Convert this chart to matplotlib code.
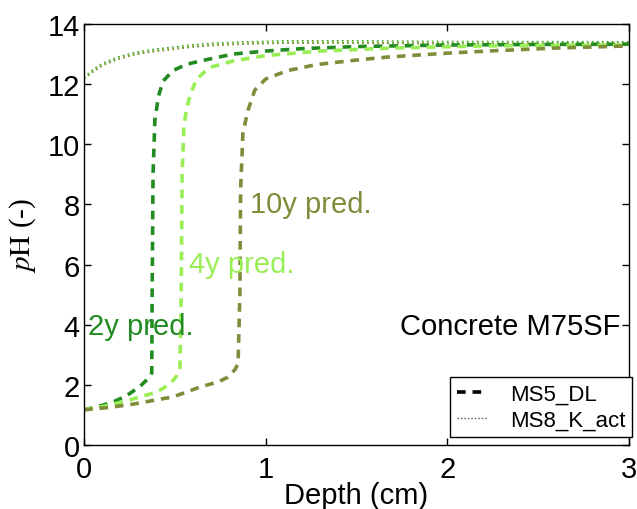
import matplotlib
matplotlib.use("Agg")
from matplotlib import pyplot as plt

plt.rcParams['font.family'] = ['Liberation Sans', 'DejaVu Sans']
plt.rcParams['mathtext.fontset'] = 'stix'

# MS5_DL predictions (dashed)
x_2y = [0, 0.08, 0.16, 0.235, 0.31, 0.36, 0.373, 0.375, 0.38, 0.39, 0.41, 0.435,
        0.49, 0.56, 0.64, 0.82, 1.0, 1.2, 1.5, 2.0, 2.5, 3.0]
ph_2y = [1.17, 1.28, 1.43, 1.64, 1.96, 2.25, 2.4, 5.0, 9.0, 10.8, 11.6, 12.1,
         12.45, 12.65, 12.77, 13.0, 13.1, 13.18, 13.25, 13.3, 13.32, 13.33]

x_4y = [0, 0.12, 0.23, 0.31, 0.40, 0.475, 0.51, 0.528, 0.535, 0.54, 0.55, 0.565,
        0.585, 0.62, 0.69, 0.82, 1.0, 1.3, 1.7, 2.2, 3.0]
ph_4y = [1.17, 1.3, 1.46, 1.6, 1.76, 2.03, 2.3, 2.5, 5.0, 9.0, 10.6, 11.2,
         11.65, 12.17, 12.55, 12.77, 12.95, 13.1, 13.2, 13.27, 13.3]

x_10y = [0, 0.14, 0.27, 0.49, 0.64, 0.74, 0.79, 0.83, 0.848, 0.858, 0.862, 0.875,
         0.905, 0.94, 1.0, 1.12, 1.28, 1.5, 1.67, 2.0, 2.22, 2.6, 3.0]
ph_10y = [1.17, 1.25, 1.36, 1.6, 1.93, 2.1, 2.25, 2.5, 2.7, 5.0, 8.5, 10.4,
          11.17, 11.8, 12.17, 12.45, 12.65, 12.8, 12.9, 13.03, 13.1, 13.2, 13.27]

# MS8_K_act predictions (dotted), nearly on top of each other
x_k = [0, 0.05, 0.1, 0.18, 0.27, 0.36, 0.46, 0.6, 0.73, 0.9, 1.1, 1.5, 2.0, 3.0]
ph_k_2y = [12.22, 12.48, 12.68, 12.88, 13.03, 13.13, 13.2, 13.3, 13.36, 13.4, 13.43, 13.43, 13.41, 13.4]
ph_k_4y = [12.2, 12.45, 12.65, 12.85, 13.0, 13.1, 13.17, 13.27, 13.33, 13.37, 13.4, 13.4, 13.38, 13.37]
ph_k_10y = [12.18, 12.42, 12.62, 12.82, 12.97, 13.07, 13.14, 13.24, 13.3, 13.34, 13.37, 13.37, 13.35, 13.34]

c2 = '#228b22'
c4 = '#99ee55'
c10 = '#7f8c3a'

fig = plt.figure(figsize=(6.37, 5.1), dpi=100)
ax = fig.add_axes([0.1319, 0.1255, 0.8555, 0.8255])

dash = (2.4, 1.9)
dot = (0, (0.8, 1.6))
ax.plot(x_k, ph_k_2y, color=c2, lw=1.5, linestyle=dot)
ax.plot(x_k, ph_k_4y, color=c4, lw=1.5, linestyle=dot)
ax.plot(x_k, ph_k_10y, color=c10, lw=1.5, linestyle=dot)
ax.plot(x_2y, ph_2y, color=c2, lw=2.6, linestyle=(0, dash))
ax.plot(x_4y, ph_4y, color=c4, lw=2.6, linestyle=(0, dash))
ax.plot(x_10y, ph_10y, color=c10, lw=2.6, linestyle=(0, dash))

ax.text(0.02, 3.96, '2y pred.', color=c2, fontsize=21, va='center')
ax.text(0.58, 6.02, '4y pred.', color=c4, fontsize=21, va='center')
ax.text(0.915, 8.0, '10y pred.', color=c10, fontsize=21, va='center')
ax.text(2.95, 3.96, 'Concrete M75SF', color='black', fontsize=21, va='center', ha='right')

# legend proxies in black
ax.plot([], [], color='black', lw=2.6, linestyle=(0, dash), label='MS5_DL')
ax.plot([], [], color='#555555', lw=1.0, linestyle=(0, (1, 1.5)), label='MS8_K_act')
leg = ax.legend(loc='lower right', bbox_to_anchor=(1.006, 0.019), borderaxespad=0,
                fontsize=16, fancybox=False, framealpha=1, edgecolor='black',
                handlelength=1.4, handletextpad=1.0, borderpad=0.3, labelspacing=0.2)
leg.get_frame().set_linewidth(1.0)

ax.set_xlim(0, 3)
ax.set_ylim(0, 14)
ax.set_xticks([0, 1, 2, 3])
ax.set_yticks([0, 2, 4, 6, 8, 10, 12, 14])
ax.tick_params(direction='in', top=True, right=True, length=5, width=1, labelsize=21)
ax.tick_params(axis='x', pad=7)
ax.tick_params(axis='y', pad=3)
for s in ax.spines.values():
    s.set_linewidth(1.0)

ax.set_xlabel('Depth (cm)', fontsize=21, labelpad=-1)
ax.set_ylabel(r'$p\mathrm{H}$ (-)', fontsize=21, family='Liberation Serif', labelpad=7)

fig.savefig('out.png', dpi=100)
